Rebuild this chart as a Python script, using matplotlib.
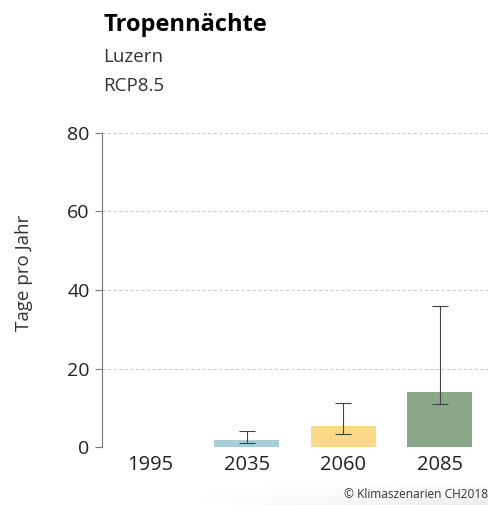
import numpy as np
import matplotlib
matplotlib.use("Agg")
import matplotlib.pyplot as plt

plt.rcParams['font.family'] = ['Open Sans', 'DejaVu Sans']

# data
years = ["1995", "2035", "2060", "2085"]
median = [0.0, 1.8, 5.3, 14.0]
lower = [0.0, 1.0, 3.3, 10.9]
upper = [0.0, 4.2, 11.2, 35.9]
colors = ["#ffffff", "#a8ccd9", "#fed889", "#8ba78a"]

fig = plt.figure(figsize=(4.88, 5.05), dpi=100)
ax = fig.add_axes([102 / 488, 1 - 447 / 505, 386 / 488, 314 / 505])

x = np.arange(len(years))
ax.bar(x, median, width=0.67, color=colors, zorder=2)
for i in range(1, len(years)):
    ax.errorbar(x[i], median[i],
                yerr=[[median[i] - lower[i]], [upper[i] - median[i]]],
                fmt="none", ecolor="#444444", elinewidth=0.8,
                capsize=6, capthick=0.8, zorder=3)

ax.set_xlim(-0.5, len(years) - 0.5)
ax.set_ylim(0, 80)
ax.set_yticks([0, 20, 40, 60, 80])
ax.set_xticks(x)
ax.set_xticklabels(years)
ax.grid(axis="y", color="#cccccc", linestyle=(0, (3, 2)), linewidth=0.8, zorder=0)
ax.set_axisbelow(True)

for s in ["top", "right", "bottom"]:
    ax.spines[s].set_visible(False)
ax.spines["left"].set_color("#777777")
ax.spines["left"].set_linewidth(0.8)
ax.tick_params(axis="y", length=5, width=0.8, color="#777777",
               labelsize=14, labelcolor="#222222", pad=4)
ax.tick_params(axis="x", length=0, labelsize=14.5, labelcolor="#222222", pad=6)
ax.set_ylabel("Tage pro Jahr", fontsize=13.5, color="#333333")
ax.yaxis.set_label_coords(-69 / 386, (447 - 273) / 314)

fig.text(103 / 488, 1 - 25 / 505, "Tropennächte", fontsize=17,
         fontweight="bold", color="#000000", va="center")
fig.text(103 / 488, 1 - 57 / 505, "Luzern", fontsize=13.5, color="#333333", va="center")
fig.text(103 / 488, 1 - 86 / 505, "RCP8.5", fontsize=13.5, color="#333333", va="center")

# faint footer shadow
bg = fig.add_axes([0, 0, 1, 24 / 505], zorder=-1)
grad = np.linspace(1.0, 0.93, 50)[:, None] * np.ones((1, 100))
fade = np.clip(np.linspace(-0.6, 1.0, 100), 0, 1)[None, :]
img = 1 - (1 - grad) * fade
bg.imshow(img, cmap="gray", vmin=0, vmax=1, aspect="auto", origin="upper")
bg.axis("off")

fig.text(488 / 488, 1 - 495 / 505, "© Klimaszenarien CH2018", fontsize=8.6,
         color="#333333", ha="right", va="center")

fig.savefig("out.png", dpi=100)
